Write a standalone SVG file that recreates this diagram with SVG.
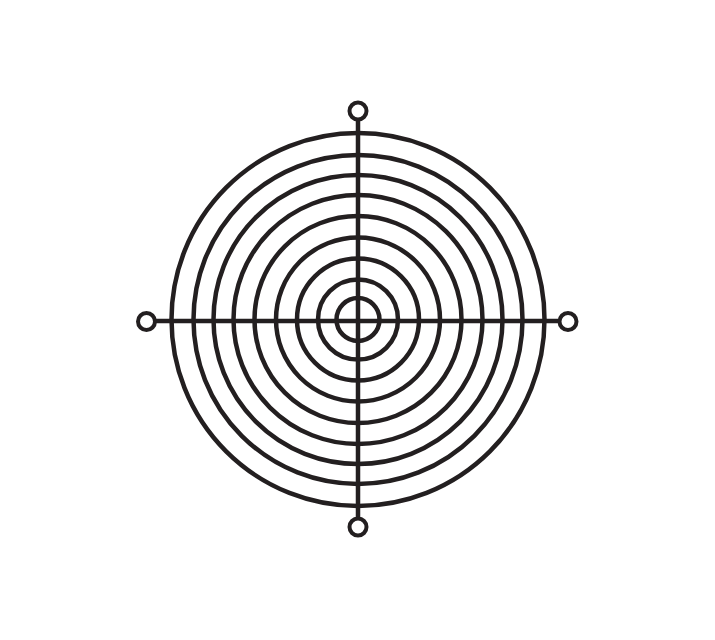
<svg xmlns="http://www.w3.org/2000/svg" width="715" height="640" viewBox="0 0 715 640">
<style>
.w{fill:none;stroke:#231f20;stroke-width:4.5}
.r{fill:#fff;stroke:#231f20;stroke-width:4}
</style>
<rect width="715" height="640" fill="#fff"/>
<g id="rings">
<circle class="w" cx="358" cy="319.5" r="186.5"/>
<circle class="w" cx="358" cy="319.5" r="164.5"/>
<circle class="w" cx="358" cy="319.5" r="144.5"/>
<circle class="w" cx="358" cy="319.5" r="124.5"/>
<circle class="w" cx="358" cy="319.5" r="103.5"/>
<circle class="w" cx="358" cy="319.5" r="82"/>
<circle class="w" cx="358" cy="319.5" r="61"/>
<circle class="w" cx="358" cy="319.5" r="40"/>
<circle class="w" cx="358" cy="319.5" r="21.5"/>
</g>
<g id="connectors">
<line class="w" x1="358" y1="119" x2="358" y2="519"/>
<line class="w" x1="155" y1="321" x2="560" y2="321"/>
</g>
<g id="mount-top"><circle class="r" cx="358" cy="111" r="8.5"/></g>
<g id="mount-bottom"><circle class="r" cx="358" cy="527" r="8.5"/></g>
<g id="mount-left"><circle class="r" cx="146.5" cy="321.5" r="8.5"/></g>
<g id="mount-right"><circle class="r" cx="568" cy="321.5" r="8.5"/></g>
</svg>
